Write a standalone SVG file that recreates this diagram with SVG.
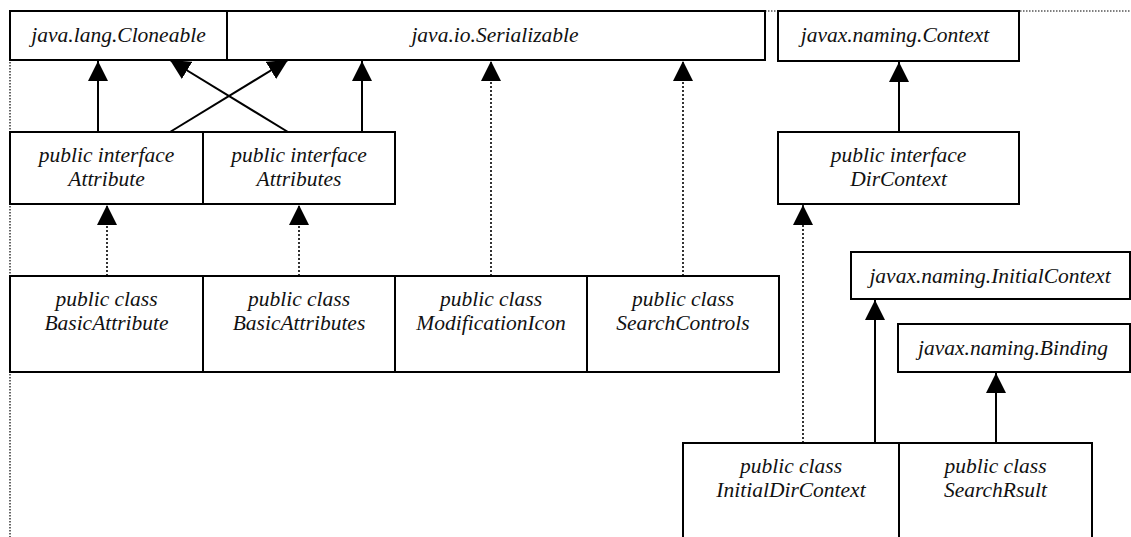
<svg xmlns="http://www.w3.org/2000/svg" width="1131" height="537" viewBox="0 0 1131 537">
<style>
.box{fill:#fff;stroke:#000;stroke-width:2}
.t{font-family:"Liberation Serif","Times New Roman",serif;font-style:italic;font-size:21.5px;fill:#111;text-anchor:middle}
.solid{stroke:#000;stroke-width:2;fill:none;marker-end:url(#ah)}
.dot{stroke:#000;stroke-width:1.6;stroke-dasharray:2 2;fill:none;marker-end:url(#ah)}
.frame{stroke:#000;stroke-width:1.2;stroke-dasharray:1.5 1.5;fill:none}
</style>
<defs>
<marker id="ah" markerUnits="userSpaceOnUse" viewBox="0 0 20 20" refX="20" refY="10" markerWidth="20" markerHeight="20" orient="auto">
<path d="M0,0 L20,10 L0,20 z" fill="#000"/>
</marker>
</defs>
<g id="frame">
<line class="frame" x1="10" y1="11" x2="10" y2="537"/>
<line class="frame" x1="765" y1="11" x2="1131" y2="11"/>
</g>
<g id="cloneable"><rect class="box" x="10" y="11" width="217" height="49"/><text class="t" x="118.5" y="42">java.lang.Cloneable</text></g>
<g id="serializable"><rect class="box" x="227" y="11" width="538" height="49"/><text class="t" x="495" y="42">java.io.Serializable</text></g>
<g id="context"><rect class="box" x="778" y="11" width="241" height="50"/><text class="t" x="895" y="42">javax.naming.Context</text></g>
<g id="attribute"><rect class="box" x="10" y="132" width="193" height="72"/><text class="t" x="106.5" y="162">public interface</text><text class="t" x="106.5" y="186">Attribute</text></g>
<g id="attributes"><rect class="box" x="203" y="132" width="192" height="72"/><text class="t" x="299" y="162">public interface</text><text class="t" x="299" y="186">Attributes</text></g>
<g id="dircontext"><rect class="box" x="778" y="132" width="241" height="72"/><text class="t" x="898.5" y="162">public interface</text><text class="t" x="898.5" y="186">DirContext</text></g>
<g id="basicattribute"><rect class="box" x="10" y="276" width="193" height="96"/><text class="t" x="106.5" y="306">public class</text><text class="t" x="106.5" y="330">BasicAttribute</text></g>
<g id="basicattributes"><rect class="box" x="203" y="276" width="192" height="96"/><text class="t" x="299" y="306">public class</text><text class="t" x="299" y="330">BasicAttributes</text></g>
<g id="modificationicon"><rect class="box" x="395" y="276" width="192" height="96"/><text class="t" x="491" y="306">public class</text><text class="t" x="491" y="330">ModificationIcon</text></g>
<g id="searchcontrols"><rect class="box" x="587" y="276" width="192" height="96"/><text class="t" x="683" y="306">public class</text><text class="t" x="683" y="330">SearchControls</text></g>
<g id="initialcontext"><rect class="box" x="851" y="252" width="279" height="47"/><text class="t" x="990" y="283">javax.naming.InitialContext</text></g>
<g id="binding"><rect class="box" x="898" y="324" width="232" height="48"/><text class="t" x="1013" y="355">javax.naming.Binding</text></g>
<g id="initialdircontext"><rect class="box" x="683" y="443" width="216" height="110"/><text class="t" x="791" y="473">public class</text><text class="t" x="791" y="497">InitialDirContext</text></g>
<g id="searchrsult"><rect class="box" x="899" y="443" width="193" height="110"/><text class="t" x="995.5" y="473">public class</text><text class="t" x="995.5" y="497">SearchRsult</text></g>
<g id="connectors">
<line class="solid" x1="98" y1="132" x2="98" y2="61"/>
<line class="solid" x1="288" y1="132" x2="170" y2="60"/>
<line class="solid" x1="170" y1="132" x2="288" y2="60"/>
<line class="solid" x1="362" y1="132" x2="362" y2="61"/>
<line class="dot" x1="491" y1="276" x2="491" y2="61"/>
<line class="dot" x1="683" y1="276" x2="683" y2="61"/>
<line class="solid" x1="899" y1="132" x2="899" y2="62"/>
<line class="dot" x1="107" y1="276" x2="107" y2="205"/>
<line class="dot" x1="299" y1="276" x2="299" y2="205"/>
<line class="dot" x1="803" y1="443" x2="803" y2="205"/>
<line class="solid" x1="875" y1="443" x2="875" y2="300"/>
<line class="solid" x1="996" y1="443" x2="996" y2="373"/>
</g>
</svg>
